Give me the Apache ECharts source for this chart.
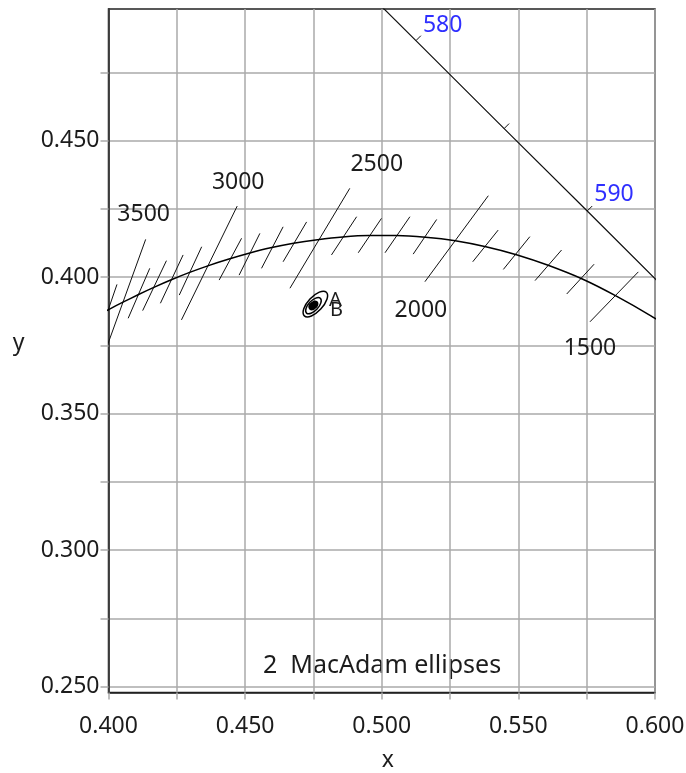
<!DOCTYPE html>
<html>
<head>
<meta charset="utf-8">
<script src="https://cdn.jsdelivr.net/npm/echarts@6/dist/echarts.min.js"></script>
<style>
  html, body { margin: 0; padding: 0; background: #ffffff; }
  #chart { width: 686px; height: 773px; }
</style>
</head>
<body>
<div id="chart"></div>
<script>
// Planckian locus, CIE 1931 (x, y), every 100 K
const locusT = [3700, 3600, 3500, 3400, 3300, 3200, 3100, 3000, 2900, 2800, 2700, 2600, 2500,
                2400, 2300, 2200, 2100, 2000, 1900, 1800, 1700, 1600, 1500, 1400, 1300];
const locusX = [0.3948, 0.3999, 0.4053, 0.4110, 0.4170, 0.4232, 0.4297, 0.4366, 0.4438, 0.4514,
                0.4593, 0.4677, 0.4765, 0.4857, 0.4953, 0.5054, 0.5160, 0.5269, 0.5381, 0.5496,
                0.5609, 0.5736, 0.5857, 0.5985, 0.6117];
const locusY = [0.3852, 0.3880, 0.3908, 0.3936, 0.3964, 0.3991, 0.4017, 0.4042, 0.4065, 0.4087,
                0.4107, 0.4124, 0.4137, 0.4147, 0.4152, 0.4152, 0.4146, 0.4133, 0.4111, 0.4081,
                0.4043, 0.3992, 0.3931, 0.3858, 0.3775];

// Isotherms (lines of constant CCT): lower end (x1, y1) to upper end (x2, y2)
const isoT  = [3600, 3500, 3400, 3300, 3200, 3100, 3000, 2900, 2800, 2700, 2600, 2500,
               2400, 2300, 2200, 2100, 2000, 1900, 1800, 1700, 1600, 1500];
const isoX1 = [0.3967, 0.3970, 0.4072, 0.4125, 0.4190, 0.4259, 0.4267, 0.4405, 0.4478, 0.4560, 0.4639, 0.4664,
               0.4816, 0.4914, 0.5012, 0.5115, 0.5158, 0.5333, 0.5445, 0.5561, 0.5677, 0.5762];
const isoY1 = [0.3787, 0.3678, 0.3849, 0.3877, 0.3904, 0.3934, 0.3843, 0.3989, 0.4007, 0.4032, 0.4056, 0.3959,
               0.4081, 0.4089, 0.4089, 0.4084, 0.3983, 0.4056, 0.4028, 0.3987, 0.3938, 0.3836];
const isoX2 = [0.4031, 0.4136, 0.4151, 0.4212, 0.4273, 0.4341, 0.4471, 0.4487, 0.4554, 0.4639, 0.4725, 0.4883,
               0.4908, 0.4999, 0.5103, 0.5201, 0.5390, 0.5426, 0.5542, 0.5658, 0.5777, 0.5939];
const isoY2 = [0.3973, 0.4138, 0.4032, 0.4060, 0.4081, 0.4111, 0.4260, 0.4142, 0.4160, 0.4184, 0.4202, 0.4325,
               0.4221, 0.4215, 0.4221, 0.4211, 0.4298, 0.4172, 0.4148, 0.4099, 0.4047, 0.4019];
const labelledT = [3500, 3000, 2500, 2000, 1500];

// Spectral locus, CIE 1931 (x, y)
const specNm = [575, 580, 585, 590, 595, 600];
const specX  = [0.4788, 0.5125, 0.5448, 0.5752, 0.6029, 0.6270];
const specY  = [0.5202, 0.4866, 0.4544, 0.4242, 0.3965, 0.3725];
const specTickNm  = [580, 585, 590];
const specLabelNm = [580, 590];

// MacAdam ellipses: centre, semi-axes (chromaticity units) and tilt in degrees
const ellName  = ['A', 'B'];
const ellX     = [0.4757, 0.4750];
const ellY     = [0.3901, 0.3895];
const ellMajor = [0.0059, 0.0037];
const ellMinor = [0.0027, 0.0018];
const ellTilt  = [47, 47];

// Axis ticks and labels
const xLabelValues = [0.400, 0.450, 0.500, 0.550, 0.600];
const yTickValues  = [0.250, 0.275, 0.300, 0.325, 0.350, 0.375, 0.400, 0.425, 0.450, 0.475];
const yLabelValues = [0.250, 0.300, 0.350, 0.400, 0.450];
const noteText = '2  MacAdam ellipses';

// ---- styling / layout ----
const FONT = '"Noto Sans", "Open Sans", sans-serif';
const TEXT = '#1c1c1c';
const GRID_C = '#aaaaaa';
const BLUE = '#2f2fff';
// label placement next to the isotherm ends, pixel offsets
const isoLabelLayout = {
  3500: { end: 2, dx: -2, dy: -25 },
  3000: { end: 2, dx: 1,  dy: -24 },
  2500: { end: 2, dx: 27, dy: -24 },
  2000: { end: 1, dx: -4, dy: 29 },
  1500: { end: 1, dx: 0,  dy: 27 }
};
const specLabelOffset = { 580: [7, -15], 590: [7, -17] };
const ellLabelOffset = [[20, -4], [23, 5]];

const chart = echarts.init(document.getElementById('chart'), null, { renderer: 'canvas' });

const series = [];

// isotherm segments
isoT.forEach((t, i) => {
  series.push({
    type: 'line',
    name: 'iso' + t,
    data: [[isoX1[i], isoY1[i]], [isoX2[i], isoY2[i]]],
    symbol: 'none',
    silent: true,
    clip: true,
    lineStyle: { color: '#111', width: 1 },
    z: 3
  });
});

// Planckian locus
series.push({
  type: 'line',
  name: 'planck',
  data: locusX.map((x, i) => [x, locusY[i]]),
  symbol: 'none',
  silent: true,
  clip: true,
  smooth: 0.2,
  lineStyle: { color: '#000', width: 1.5 },
  z: 4
});

// spectral locus
series.push({
  type: 'line',
  name: 'spectral',
  data: specX.map((x, i) => [x, specY[i]]),
  symbol: 'none',
  silent: true,
  clip: true,
  lineStyle: { color: '#111', width: 1.2 },
  z: 4
});

// wavelength ticks and labels on the spectral locus
series.push({
  type: 'custom',
  name: 'spectralMarks',
  silent: true,
  z: 5,
  data: specTickNm.map(nm => { const k = specNm.indexOf(nm); return [specX[k], specY[k], nm]; }),
  renderItem: function (params, api) {
    const nm = api.value(2);
    const k = specNm.indexOf(nm);
    const p = api.coord([specX[k], specY[k]]);
    const a = api.coord([specX[k - 1], specY[k - 1]]);
    const b = api.coord([specX[k + 1], specY[k + 1]]);
    let dx = b[0] - a[0], dy = b[1] - a[1];
    const len = Math.hypot(dx, dy);
    dx /= len; dy /= len;
    // normal pointing away from the white region (up and right)
    let nx = dy, ny = -dx;
    if (nx < 0) { nx = -nx; ny = -ny; }
    const children = [{
      type: 'line',
      shape: { x1: p[0], y1: p[1], x2: p[0] + nx * 7, y2: p[1] + ny * 7 },
      style: { stroke: '#111', lineWidth: 1 }
    }];
    if (specLabelNm.indexOf(nm) >= 0) {
      const off = specLabelOffset[nm];
      children.push({
        type: 'text',
        x: p[0] + off[0], y: p[1] + off[1],
        style: { text: String(nm), fill: BLUE, fontSize: 23, fontFamily: FONT,
                 align: 'left', verticalAlign: 'middle' }
      });
    }
    return { type: 'group', children: children };
  }
});

// temperature labels at the long isotherms
series.push({
  type: 'custom',
  name: 'isoLabels',
  silent: true,
  z: 5,
  data: labelledT.map(t => {
    const i = isoT.indexOf(t);
    const end = isoLabelLayout[t].end;
    return end === 2 ? [isoX2[i], isoY2[i], t] : [isoX1[i], isoY1[i], t];
  }),
  renderItem: function (params, api) {
    const t = api.value(2);
    const p = api.coord([api.value(0), api.value(1)]);
    const lay = isoLabelLayout[t];
    return {
      type: 'text',
      x: p[0] + lay.dx, y: p[1] + lay.dy,
      style: { text: String(t), fill: TEXT, fontSize: 23, fontFamily: FONT,
               align: 'center', verticalAlign: 'middle' }
    };
  }
});

// MacAdam ellipses
series.push({
  type: 'custom',
  name: 'macadam',
  silent: true,
  z: 6,
  data: ellName.map((n, i) => [ellX[i], ellY[i], ellMajor[i], ellMinor[i], ellTilt[i], i]),
  renderItem: function (params, api) {
    const i = api.value(5);
    const c = api.coord([api.value(0), api.value(1)]);
    const rx = api.size([api.value(2), 0])[0];
    const ry = api.size([api.value(3), 0])[0];
    const rot = api.value(4) * Math.PI / 180;
    return {
      type: 'group',
      children: [
        {
          type: 'ellipse',
          x: c[0], y: c[1], rotation: rot,
          shape: { cx: 0, cy: 0, rx: rx, ry: ry },
          style: { fill: 'none', stroke: '#000', lineWidth: 1.5 }
        },
        {
          type: 'ellipse',
          x: c[0] - 1, y: c[1] + 0.5, rotation: rot,
          shape: { cx: 0, cy: 0, rx: 4.5, ry: 3.8 },
          style: { fill: '#000' }
        },
        {
          type: 'text',
          x: c[0] + ellLabelOffset[i][0], y: c[1] + ellLabelOffset[i][1],
          style: { text: ellName[i], fill: TEXT, fontSize: 20, fontFamily: FONT,
                   align: 'center', verticalAlign: 'middle' }
        }
      ]
    };
  }
});

const option = {
  backgroundColor: '#ffffff',
  animation: false,
  textStyle: { fontFamily: FONT },
  grid: {
    left: 108.5, right: 31, top: 9, bottom: 80.5,
    show: true, borderColor: '#222', borderWidth: 1.5,
    containLabel: false, outerBoundsMode: 'none'
  },
  xAxis: {
    type: 'value',
    min: 0.4, max: 0.6, interval: 0.025,
    name: 'x', nameLocation: 'middle', nameGap: 56,
    nameTextStyle: { color: TEXT, fontSize: 23, fontFamily: FONT, padding: [0, 0, 0, 12] },
    axisLine: { show: true, onZero: false, lineStyle: { color: '#222', width: 1.5 } },
    axisTick: { show: true, inside: false, length: 7, lineStyle: { color: GRID_C, width: 1.5 } },
    axisLabel: {
      customValues: xLabelValues,
      color: TEXT, fontSize: 23, fontFamily: FONT, margin: 22,
      formatter: v => Number(v).toFixed(3)
    },
    splitLine: { show: true, lineStyle: { color: GRID_C, width: 1.5 } }
  },
  yAxis: {
    type: 'value',
    min: 0.2478, max: 0.4982,
    name: 'y', nameLocation: 'middle', nameGap: 84, nameRotate: 0,
    nameTextStyle: { color: TEXT, fontSize: 23, fontFamily: FONT,
                     verticalAlign: 'bottom', lineHeight: 14 },
    axisLine: { show: true, onZero: false, lineStyle: { color: '#222', width: 1.5 } },
    axisTick: { show: true, inside: false, length: 8, customValues: yTickValues,
                lineStyle: { color: GRID_C, width: 1.5 } },
    axisLabel: {
      customValues: yLabelValues,
      color: TEXT, fontSize: 23, fontFamily: FONT, margin: 9,
      formatter: v => Number(v).toFixed(3)
    },
    splitLine: { show: true, lineStyle: { color: GRID_C, width: 1.5 } }
  },
  graphic: [{
    type: 'text',
    left: 263, top: 653,
    style: { text: noteText, fill: TEXT, fontSize: 25, fontFamily: FONT }
  }],
  series: series
};

chart.setOption(option);
</script>
</body>
</html>
